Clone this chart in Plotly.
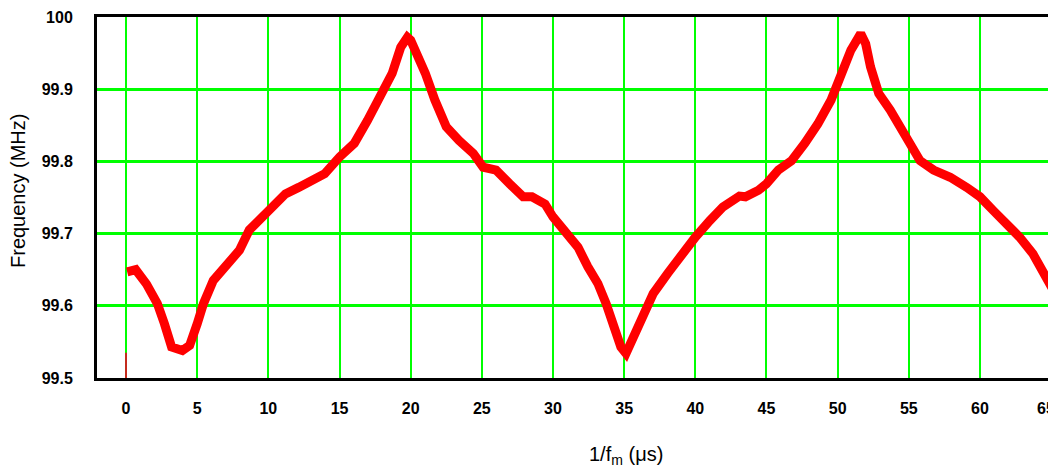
import plotly.graph_objects as go

# Measured trace: 1/f_m (µs) vs frequency (MHz)
t_us = [0.08, 0.68, 1.44, 2.2, 2.7, 3.2, 3.96, 4.47, 5.0, 5.44, 6.13, 7.05, 7.97, 8.66,
        9.58, 10.28, 11.2, 12.13, 13.29, 13.96, 15.0, 16.04, 16.97, 17.9, 18.7, 19.3,
        19.77, 20.0, 20.46, 21.03, 21.7, 22.5, 23.4, 24.4, 25.09, 26.0, 26.95, 27.9,
        28.52, 29.44, 30.0, 30.83, 31.76, 32.45, 33.15, 33.73, 34.3, 34.77, 35.13,
        35.64, 36.28, 37.04, 38.06, 39.08, 40.0, 41.02, 41.94, 43.1, 43.52, 44.44,
        45.0, 45.83, 46.76, 47.69, 48.61, 49.54, 50.23, 50.93, 51.62, 51.97, 52.31,
        52.89, 53.7, 54.4, 55.09, 55.79, 56.74, 57.91, 59.07, 60.0, 60.93, 61.86,
        62.79, 63.72, 64.65, 65.2]
freq_mhz = [99.647, 99.650, 99.630, 99.603, 99.575, 99.543, 99.538, 99.545, 99.575,
            99.603, 99.635, 99.658, 99.677, 99.705, 99.723, 99.741, 99.755, 99.764,
            99.778, 99.783, 99.806, 99.825, 99.857, 99.889, 99.922, 99.958, 99.972,
            99.968, 99.949, 99.922, 99.885, 99.848, 99.829, 99.811, 99.792, 99.788,
            99.769, 99.751, 99.751, 99.741, 99.723, 99.705, 99.681, 99.654, 99.631,
            99.603, 99.571, 99.543, 99.534, 99.557, 99.584, 99.617, 99.645, 99.672,
            99.695, 99.718, 99.737, 99.752, 99.751, 99.760, 99.769, 99.788, 99.801,
            99.825, 99.852, 99.885, 99.922, 99.954, 99.977, 99.963, 99.931, 99.894,
            99.871, 99.848, 99.825, 99.801, 99.788, 99.778, 99.764, 99.751, 99.732,
            99.714, 99.695, 99.672, 99.640, 99.620]

# initial transient at t = 0
start_t = [0.0, 0.0]
start_f = [99.500, 99.535]

x_ticks = [0, 5, 10, 15, 20, 25, 30, 35, 40, 45, 50, 55, 60]
x_ticktext = ["0", "5", "10", "15", "20", "25", "30", "35", "40", "45", "50", "55", "60"]
y_ticks = [99.5, 99.6, 99.7, 99.8, 99.9, 100.0]
y_ticktext = ["99.5", "99.6", "99.7", "99.8", "99.9", "100"]

W, H = 1048, 469
L, R, T, B = 97, 0, 17, 91
pw, ph = W - L - R, H - T - B

def px_x(p):
    return (p - L) / pw

def px_y(p):
    return (H - B - p) / ph

fig = go.Figure()
fig.add_trace(go.Scatter(x=start_t, y=start_f, mode="lines",
                         line=dict(color="#C8281E", width=2), showlegend=False,
                         hoverinfo="skip"))
fig.add_trace(go.Scatter(x=t_us, y=freq_mhz, mode="lines",
                         line=dict(color="#FF0000", width=9), showlegend=False))

FAM = "Liberation Sans, Arial, sans-serif"
tickfont = dict(family=FAM, size=16, color="black", weight="bold")

fig.update_layout(
    width=W, height=H,
    margin=dict(l=L, r=R, t=T, b=B, pad=0, autoexpand=False),
    paper_bgcolor="white", plot_bgcolor="white",
    font=dict(family=FAM, color="black"),
    xaxis=dict(range=[-2.04, 64.78], tickmode="array", tickvals=x_ticks,
               ticktext=x_ticktext, tickfont=tickfont, ticks="",
               ticklabelstandoff=14, automargin=False,
               showgrid=True, gridcolor="#00FF00", gridwidth=2,
               zeroline=False, showline=True, linecolor="black", linewidth=3,
               mirror=True),
    yaxis=dict(range=[99.5, 100.0], tickmode="array", tickvals=y_ticks,
               ticktext=y_ticktext, tickfont=tickfont, ticks="",
               ticklabelstandoff=18, automargin=False,
               showgrid=True, gridcolor="#00FF00", gridwidth=3,
               zeroline=False, showline=True, linecolor="black", linewidth=3),
    annotations=[
        dict(text="65", xref="paper", yref="paper", x=px_x(1035), y=px_y(408),
             xanchor="left", yanchor="middle", showarrow=False, font=tickfont),
        dict(text="1/f<sub>m</sub> (μs)", xref="paper", yref="paper",
             x=px_x(626), y=px_y(455), xanchor="center", yanchor="middle",
             showarrow=False,
             font=dict(family=FAM, size=20, color="black")),
        dict(text="Frequency (MHz)", xref="paper", yref="paper",
             x=px_x(18), y=px_y(191), xanchor="center", yanchor="middle",
             textangle=-90, showarrow=False,
             font=dict(family=FAM, size=20, color="black")),
    ],
)

fig.write_html("out.html", config={"displayModeBar": False},
               post_script="document.body.style.margin='0';document.body.style.overflow='hidden';")
